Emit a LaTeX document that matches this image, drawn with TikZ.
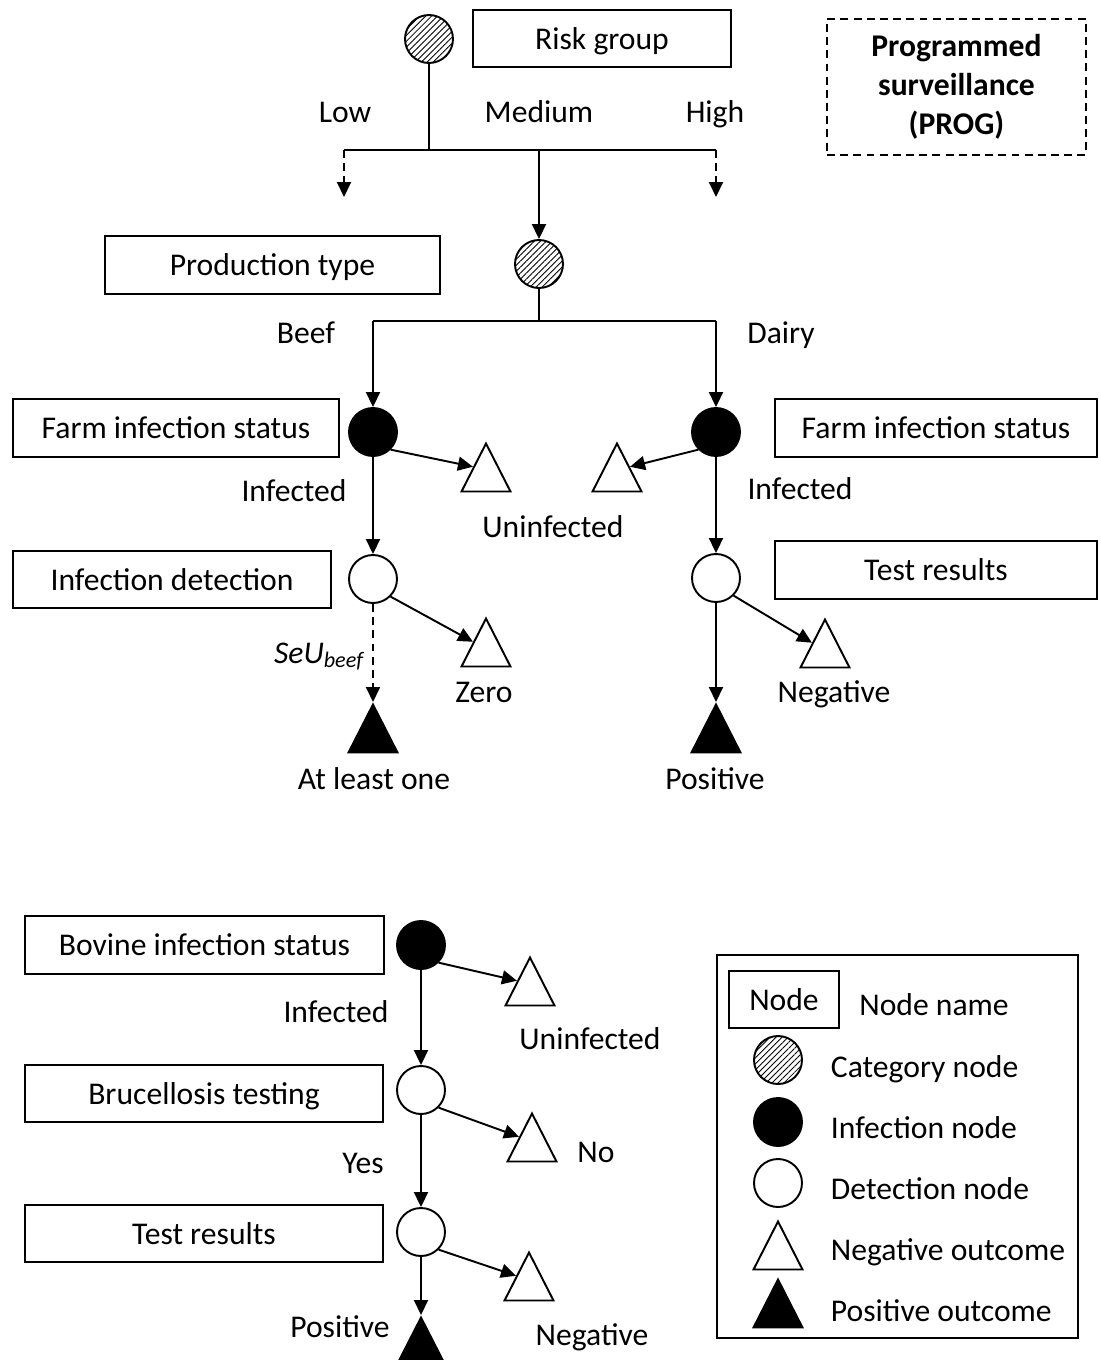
\documentclass[tikz,border=0pt]{standalone}
\usepackage{fontspec}
\setmainfont{Carlito}
\usetikzlibrary{arrows.meta,patterns.meta,shapes.geometric}

\tikzset{
  catnode/.style={circle,draw,inner sep=0pt,minimum size=0.96cm,
    pattern={Lines[angle=45,distance=2.4pt,line width=0.5pt]}},
  infnode/.style={circle,draw,fill=black,inner sep=0pt,minimum size=0.96cm},
  detnode/.style={circle,draw,fill=white,inner sep=0pt,minimum size=0.96cm},
  negout/.style={isosceles triangle,isosceles triangle stretches,
    shape border rotate=90,draw,fill=white,inner sep=0pt,
    minimum width=0.98cm,minimum height=0.96cm},
  posout/.style={negout,fill=black},
  namebox/.style={draw,rectangle,inner sep=0pt,minimum height=1.15cm,
    text height=12pt,text depth=0pt},
  lbl/.style={inner sep=0pt,text height=12pt,text depth=0pt},
  dashedline/.style={dash pattern=on 4.5pt off 3pt}
}

\begin{document}
\begin{tikzpicture}[x=0.02cm,y=-0.02cm,line width=1.1pt,
    font=\fontsize{18}{21.6}\selectfont,
    >={Triangle[length=0.3cm,width=0.28cm]}]
		\useasboundingbox (0,0) rectangle (1101,1360);
		% RISK GROUP
		\node[catnode] (risk) at (429,39) {};
		\node[namebox,minimum width=5.16cm] (riskname) at (602,38.5) {Risk group};
		\node[draw,dashedline,minimum width=5.18cm,minimum height=2.72cm,
		  align=center,font=\fontsize{18}{22.2}\selectfont\bfseries] (prog) at (956.5,87)
		  {Programmed\\surveillance\\(PROG)};
		\coordinate (bar1) at (429,150);
		\coordinate (lowend) at (344,197);
		\coordinate (highend) at (716,197);
		\node[catnode] (prod) at (539,264) {};
		\draw (risk) -- (bar1);
		\draw (lowend |- bar1) -- (highend |- bar1);
		\draw[->,dashedline] (lowend |- bar1) -- (lowend);
		\draw[->,dashedline] (highend |- bar1) -- (highend);
		\draw[->] (prod |- bar1) -- (prod);
		\node[lbl] (low) at (345,112) {Low};
		\node[lbl] (medium) at (539,112) {Medium};
		\node[lbl] (high) at (715,112) {High};
		% PRODUCTION TYPE
		\node[namebox,minimum width=6.7cm] (prodname) at (272.5,265) {Production type};
		\coordinate (bar2) at (539,321);
		\node[infnode] (farmb) at (373,432) {};
		\node[infnode] (farmd) at (716,432) {};
		\draw (prod) -- (bar2);
		\draw (farmb |- bar2) -- (farmd |- bar2);
		\draw[->] (farmb |- bar2) -- (farmb);
		\draw[->] (farmd |- bar2) -- (farmd);
		\node[lbl] (beef) at (306,333) {Beef};
		\node[lbl] (dairy) at (781,333) {Dairy};
		% FARM INFECTION STATUS
		\node[namebox,minimum width=6.52cm] (farmbname) at (176,428) {Farm infection status};
		\node[namebox,minimum width=6.44cm] (farmdname) at (936,428) {Farm infection status};
		\node[negout,anchor=apex] (uninfb) at (486,441) {};
		\node[negout,anchor=apex] (uninfd) at (617,441) {};
		\node[detnode] (detb) at (373,579) {};
		\node[detnode] (detd) at (716,578) {};
		\draw[->] (farmb.south east) -- (uninfb.left side);
		\draw[->] (farmd.south west) -- (uninfd.right side);
		\draw[->] (farmb) -- (detb);
		\draw[->] (farmd) -- (detd);
		\node[lbl] (infb) at (294,491) {Infected};
		\node[lbl] (infd) at (800,489) {Infected};
		\node[lbl] (uninf) at (553,527) {Uninfected};
		% DETECTION
		\node[namebox,minimum width=6.36cm] (detbname) at (172,579.5) {Infection detection};
		\node[namebox,minimum width=6.44cm] (detdname) at (936,570) {Test results};
		\node[negout,anchor=apex] (zero) at (486,616) {};
		\node[posout,anchor=apex] (atleast) at (373,702) {};
		\node[negout,anchor=apex] (negd) at (825,617) {};
		\node[posout,anchor=apex] (posd) at (716,702) {};
		\draw[->] (detb.south east) -- (zero.left side);
		\draw[->,dashedline] (detb) -- (atleast);
		\draw[->] (detd.south east) -- (negd.left side);
		\draw[->] (detd) -- (posd);
		\node[anchor=base east,inner sep=0pt] (seu) at (366,663)
		  {\textit{SeU}\textsubscript{\textit{beef}}};
		\node[lbl] (zerolbl) at (484,692) {Zero};
		\node[lbl] (atleastlbl) at (374,779) {At least one};
		\node[lbl] (negdlbl) at (834,692) {Negative};
		\node[lbl] (posdlbl) at (715,779) {Positive};
		% BOVINE LEVEL
		\node[infnode] (bov) at (421,945) {};
		\node[detnode] (bruc) at (421,1090) {};
		\node[detnode] (test) at (421,1232) {};
		\node[namebox,minimum width=7.18cm] (bovname) at (204.5,945) {Bovine infection status};
		\node[namebox,minimum width=7.16cm] (brucname) at (204,1093.5) {Brucellosis testing};
		\node[namebox,minimum width=7.16cm] (testname) at (204,1233.5) {Test results};
		\node[negout,anchor=apex] (uninfbov) at (530,955) {};
		\node[negout,anchor=apex] (notest) at (532,1111) {};
		\node[negout,anchor=apex] (negbov) at (529,1250) {};
		\node[posout,anchor=apex] (posbov) at (421,1315) {};
		\draw[->] (bov.south east) -- (uninfbov.left side);
		\draw[->] (bov) -- (bruc);
		\draw[->] (bruc.south east) -- (notest.left side);
		\draw[->] (bruc) -- (test);
		\draw[->] (test.south east) -- (negbov.left side);
		\draw[->] (test) -- (posbov);
		\node[lbl] (infbov) at (336,1012) {Infected};
		\node[lbl] (uninfbovlbl) at (590,1039) {Uninfected};
		\node[lbl] (nolbl) at (596,1152) {No};
		\node[lbl] (yeslbl) at (363,1163) {Yes};
		\node[lbl] (negbovlbl) at (592,1335) {Negative};
		\node[lbl] (posbovlbl) at (340,1327) {Positive};
		% LEGEND
		\node[draw,minimum width=7.22cm,minimum height=7.66cm] (legend) at (897.5,1146.5) {};
		\node[namebox,minimum width=2.2cm] (keybox) at (784,999.5) {Node};
		\node[lbl] (keyname) at (934,1005) {Node name};
		\node[catnode] (keycat) at (778,1060) {};
		\node[infnode] (keyinf) at (778,1122) {};
		\node[detnode] (keydet) at (778,1183) {};
		\node[negout,anchor=apex] (keyneg) at (778,1219) {};
		\node[posout,anchor=apex] (keypos) at (778,1277) {};
		\node[lbl,anchor=west] (keycatlbl) at (830,1067) {Category node};
		\node[lbl,anchor=west] (keyinflbl) at (830,1128) {Infection node};
		\node[lbl,anchor=west] (keydetlbl) at (830,1189) {Detection node};
		\node[lbl,anchor=west] (keyneglbl) at (830,1250) {Negative outcome};
		\node[lbl,anchor=west] (keyposlbl) at (830,1311) {Positive outcome};
\end{tikzpicture}
\end{document}
